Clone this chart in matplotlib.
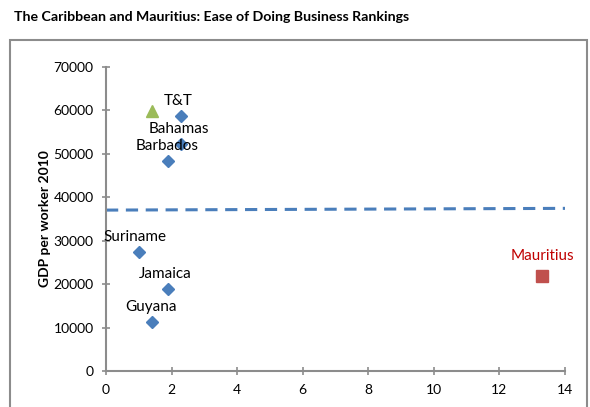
import matplotlib.pyplot as plt
from matplotlib.patches import Rectangle

# data
countries = ['T&T', 'Bahamas', 'Barbados', 'Suriname', 'Jamaica', 'Guyana']
rank = [2.3, 2.3, 1.9, 1.0, 1.9, 1.4]
gdp = [58700, 52300, 48300, 27400, 18900, 11200]
label_off = [(-2, 6), (-2, 6), (-1, 6), (-3, 6), (-2, 6), (-1, 6)]

mu_rank = [13.3]
mu_gdp = [21900]

tri_rank = [1.4]
tri_gdp = [59900]

trend_x = [0, 14]
trend_y = [37050, 37450]

fig = plt.figure(figsize=(5.9, 4.07), dpi=100)
plt.rcParams['font.family'] = ['Lato', 'DejaVu Sans']

fig.patches.append(Rectangle((10 / 590, -0.05), 577 / 590, 1 - 40 / 407 + 0.05,
                             transform=fig.transFigure, fill=False,
                             edgecolor='#8c8c8c', linewidth=1.5))
fig.text(14 / 590, 1 - 17 / 407, 'The Caribbean and Mauritius: Ease of Doing Business Rankings',
         fontsize=10.2, fontweight='bold', va='center', ha='left')

ax = fig.add_axes([106 / 590, 36 / 407, 459 / 590, 304 / 407])

ax.plot(trend_x, trend_y, linestyle=(0, (4, 2.5)), color='#4a7ebb', linewidth=2.2)
ax.plot(rank, gdp, 'D', color='#4a7ebb', markersize=6.5, linestyle='none')
for c, x, y, off in zip(countries, rank, gdp, label_off):
    ax.annotate(c, xy=(x, y), xytext=off, textcoords='offset points',
                ha='center', va='bottom', fontsize=11)
ax.plot(tri_rank, tri_gdp, '^', color='#9bbb59', markersize=8, linestyle='none')
ax.plot(mu_rank, mu_gdp, 's', color='#c0504d', markersize=8, linestyle='none')
ax.annotate('Mauritius', xy=(mu_rank[0], mu_gdp[0]), xytext=(0, 9), textcoords='offset points',
            ha='center', va='bottom', fontsize=11, color='#c00000')

ax.set_xlim(0, 14)
ax.set_ylim(0, 70000)
ax.set_xticks(range(0, 15, 2))
ax.set_yticks(range(0, 70001, 10000))
for s in ['top', 'right']:
    ax.spines[s].set_visible(False)
for s in ['left', 'bottom']:
    ax.spines[s].set_color('#8c8c8c')
    ax.spines[s].set_linewidth(1.5)
ax.tick_params(direction='inout', length=6, width=1.2, color='#8c8c8c', labelsize=10, pad=6)
ax.set_ylabel('GDP per worker 2010', fontsize=10, fontweight='bold', labelpad=2)

fig.savefig('out.png', dpi=100)
